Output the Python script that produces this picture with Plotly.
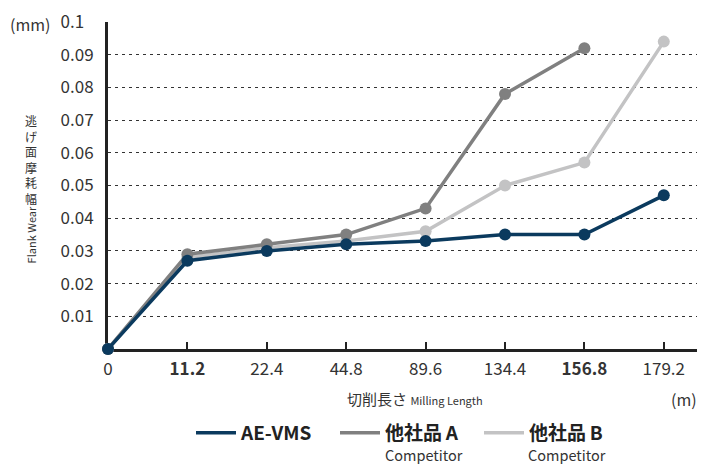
import plotly.graph_objects as go

categories = ["0", "11.2", "22.4", "44.8", "89.6", "134.4", "156.8", "179.2"]
bold_categories = ["11.2", "156.8"]
ae_vms = [0, 0.027, 0.030, 0.032, 0.033, 0.035, 0.035, 0.047]
comp_a = [0, 0.029, 0.032, 0.035, 0.043, 0.078, 0.092, None]
comp_b = [0, 0.028, 0.031, 0.033, 0.036, 0.050, 0.057, 0.094]
y_ticks = [0.01, 0.02, 0.03, 0.04, 0.05, 0.06, 0.07, 0.08, 0.09, 0.1]
y_tick_labels = ["0.01", "0.02", "0.03", "0.04", "0.05", "0.06", "0.07", "0.08", "0.09", "0.1\u2007"]

OFF = 8  # page body margin
W, H = 705 - OFF, 464 - OFF
L, R, T = 108 - OFF, 0, 18 - OFF
B = H - (349 - OFF)
PW, PH = W - L - R, H - T - B

def px(x):
    return (x - OFF - L) / PW

def py(y):
    return (H - B - (y - OFF)) / PH

FONT = "Noto Sans CJK JP"
x_idx = list(range(len(categories)))

fig = go.Figure()
series = [
    ("<b>AE-VMS</b>", ae_vms, "#0b3a5e"),
    ("<b>他社品\u2009A</b>", comp_a, "#808080"),
    ("<b>他社品\u2009B</b>", comp_b, "#c3c3c4"),
]
for name, vals, col in reversed(series):
    fig.add_trace(go.Scatter(
        x=x_idx, y=vals, name=name, mode="lines+markers",
        line=dict(color=col, width=3.5),
        marker=dict(color=col, size=12),
        cliponaxis=False, showlegend=False,
    ))
# legend-only entries (line symbol without marker)
for name, vals, col in series:
    fig.add_trace(go.Scatter(
        x=[None], y=[None], name=name, mode="lines",
        line=dict(color=col, width=3.5), showlegend=True,
    ))

ticktext = [f"<b>{c}</b>" if c in bold_categories else c for c in categories]

fig.update_layout(
    width=W, height=H,
    margin=dict(l=L, r=R, t=T, b=B),
    paper_bgcolor="white", plot_bgcolor="white",
    font=dict(family=FONT, color="#333333", size=17),
    showlegend=True,
    legend=dict(
        orientation="h", traceorder="normal",
        x=px(191), xanchor="left", y=py(434), yanchor="middle",
        font=dict(size=19, color="#222222"),
        itemwidth=40, entrywidth=89, entrywidthmode="pixels",
    ),
    xaxis=dict(
        range=[0, (705 - 108) / 79.4], tickvals=x_idx, ticktext=ticktext,
        showline=True, linecolor="#222222", linewidth=3,
        ticks="inside", ticklen=7, tickwidth=2, tickcolor="#222222",
        showgrid=False, zeroline=False, layer="below traces",
        ticklabelstandoff=3, ticklabeloverflow="allow",
        tickfont=dict(size=17, color="#333333"),
    ),
    yaxis=dict(
        range=[0, 0.1], tickvals=y_ticks, ticktext=y_tick_labels,
        showline=True, linecolor="#222222", linewidth=3,
        ticks="", showgrid=True, gridcolor="#333333", gridwidth=1.2,
        griddash="3px,4px", zeroline=False, layer="below traces",
        ticklabelstandoff=8, ticklabeloverflow="allow",
        tickfont=dict(size=17, color="#333333"),
    ),
)

ann = [
    dict(text="(mm)", x=30, y=20, size=16),
    dict(text="切削長さ <span style='font-size:11px'>Milling Length</span>", x=415, y=399, size=15),
    dict(text="Competitor", x=424, y=456, size=14.5),
    dict(text="Competitor", x=567, y=456, size=14.5),
    dict(text="逃<br>げ<br>面<br>摩<br>耗<br>幅", x=31, y=157, size=12),
]
for a in ann:
    fig.add_annotation(text=a["text"], x=px(a["x"]), y=py(a["y"]), xref="paper", yref="paper",
                       showarrow=False, xanchor="center", yanchor="middle",
                       font=dict(size=a["size"], color="#333333", family=FONT))

fig.add_annotation(text="(m)", x=px(699), y=py(400), xref="paper", yref="paper",
                   showarrow=False, xanchor="right", yanchor="middle",
                   font=dict(size=16, color="#333333", family=FONT))
fig.add_annotation(text="Flank Wear", x=px(31), y=py(234), xref="paper", yref="paper",
                   showarrow=False, textangle=-90, xanchor="center", yanchor="middle",
                   font=dict(size=11, color="#333333", family=FONT))

fig.write_html("out.html")
